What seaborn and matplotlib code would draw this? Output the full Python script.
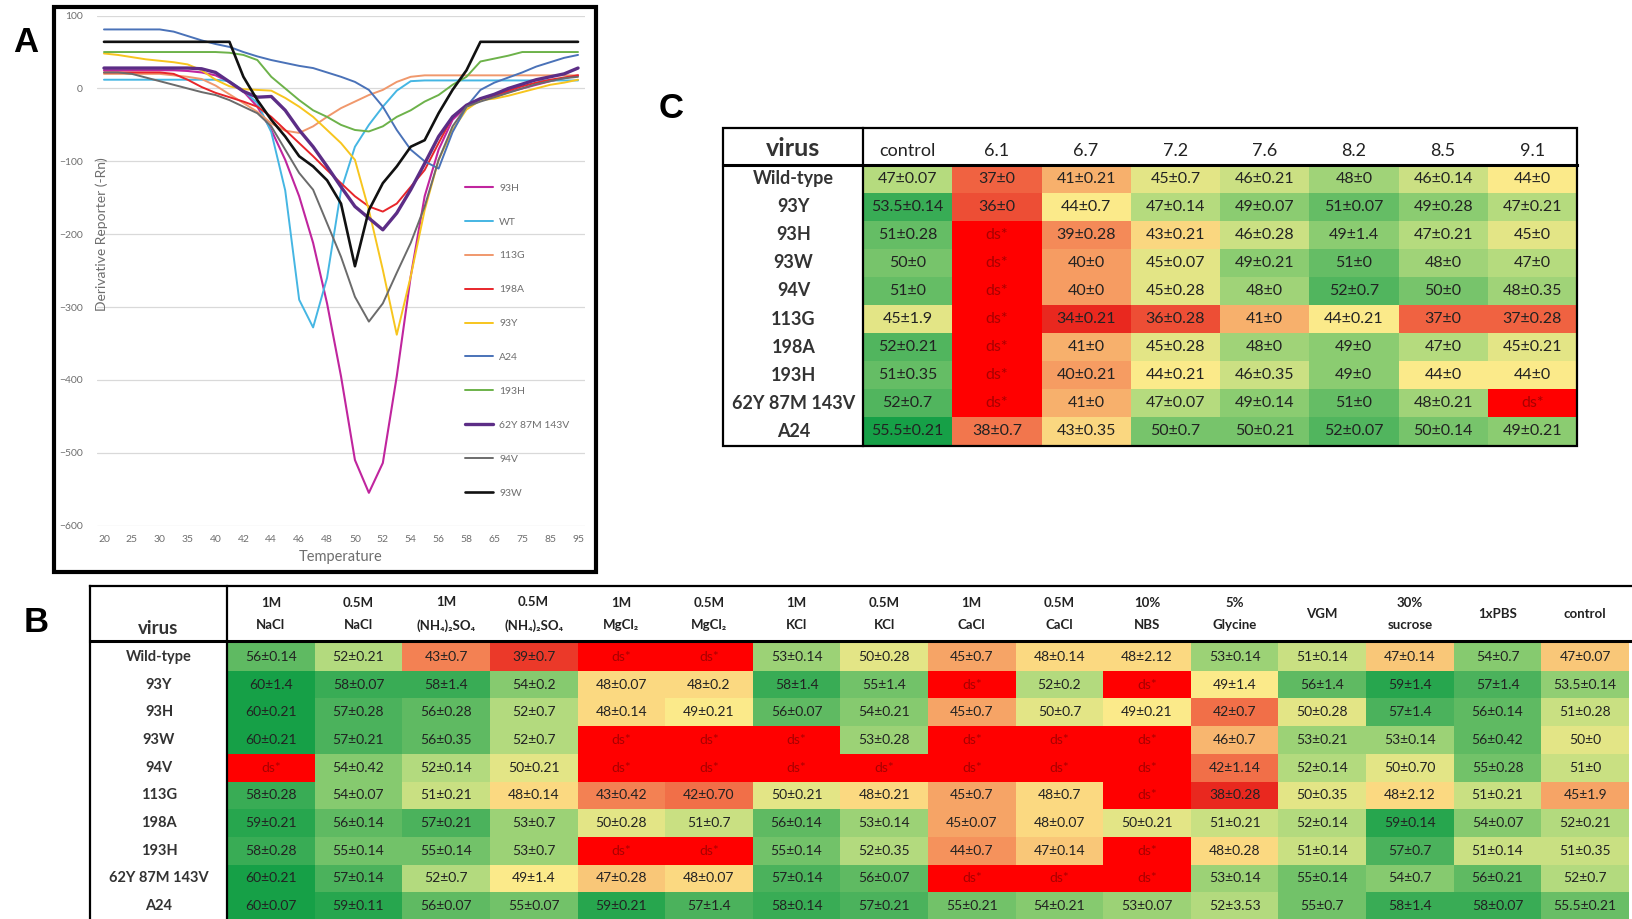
import numpy as np
import pandas as pd
import matplotlib
matplotlib.use("Agg")
import matplotlib.pyplot as plt
from matplotlib.colors import LinearSegmentedColormap, ListedColormap, TwoSlopeNorm
from matplotlib.lines import Line2D
from matplotlib.patches import Rectangle
import seaborn as sns

# ---------------------------------------------------------------- data ----
# Panel A: derivative melt curves (-Rn') against temperature
temperatures = [20, 22, 25, 27, 30, 32, 35, 37, 40, 41, 42, 43, 44, 45, 46, 47, 48,
                49, 50, 51, 52, 53, 54, 55, 56, 57, 58, 60, 65, 70, 75, 80, 85, 90, 95]
curve_names = ["93H", "WT", "113G", "198A", "93Y", "A24", "193H",
               "62Y 87M 143V", "94V", "93W"]
curve_93H = [25, 25, 25, 25, 25, 25, 24, 22, 18, 9, -4, -25, -57, -98, -148, -212, -295,
             -395, -510, -555, -514, -395, -258, -148, -84, -43, -25, -16, -12, -5, 0, 5,
             10, 14, 18]
curve_WT = [12, 12, 12, 12, 12, 12, 12, 12, 12, 10, -3, -20, -60, -140, -290, -328, -260,
            -140, -80, -50, -25, -3, 10, 11, 11, 11, 11, 11, 11, 11, 11, 11, 11, 11, 11]
curve_113G = [20, 20, 20, 20, 20, 18, 16, 13, 4, -8, -20, -32, -48, -58, -61, -52, -39,
              -27, -18, -9, -2, 9, 16, 18, 18, 18, 18, 18, 18, 18, 18, 18, 18, 18, 18]
curve_198A = [22, 22, 22, 22, 22, 20, 12, 2, -6, -12, -18, -25, -39, -57, -75, -93, -112,
              -130, -148, -162, -169, -158, -135, -112, -75, -39, -23, -14, -10, -3, 3, 8,
              12, 15, 18]
curve_93Y = [48, 46, 43, 40, 38, 36, 33, 25, 12, 3, -1, -2, -3, -13, -25, -39, -57, -75,
             -98, -167, -249, -338, -258, -167, -98, -57, -29, -16, -14, -10, -5, 0, 5, 8,
             12]
curve_A24 = [81, 81, 81, 81, 81, 78, 72, 66, 61, 57, 50, 44, 39, 35, 31, 28, 22, 16, 9,
             -2, -25, -57, -84, -100, -110, -60, -25, -2, 8, 15, 22, 30, 36, 42, 46]
curve_193H = [50, 50, 50, 50, 50, 50, 50, 50, 50, 49, 46, 39, 16, 0, -16, -30, -39, -50,
              -57, -59, -52, -39, -30, -18, -9, 5, 16, 37, 41, 45, 50, 50, 50, 50, 50]
curve_62Y87M143V = [28, 28, 28, 28, 28, 28, 28, 27, 22, 9, -4, -12, -11, -30, -57, -80,
                    -107, -135, -162, -178, -194, -171, -139, -103, -66, -39, -23, -14,
                    -8, 0, 6, 12, 16, 20, 28]
curve_94V = [22, 22, 20, 15, 10, 5, 0, -5, -9, -16, -25, -34, -52, -84, -116, -139, -185,
             -231, -286, -320, -295, -253, -212, -162, -98, -52, -25, -18, -12, -6, 0, 6,
             10, 14, 16]
curve_93W = [64, 64, 64, 64, 64, 64, 64, 64, 64, 64, 16, -16, -43, -66, -93, -107, -126,
             -158, -244, -167, -130, -107, -80, -71, -34, -2, 25, 64, 64, 64, 64, 64, 64,
             64, 64]
curves = [curve_93H, curve_WT, curve_113G, curve_198A, curve_93Y, curve_A24, curve_193H,
          curve_62Y87M143V, curve_94V, curve_93W]

# Panel B: Tm (mean±sd) of each virus in different buffers
buffer_columns = ["1M\nNaCl", "0.5M\nNaCl", "1M\n(NH₄)₂SO₄", "0.5M\n(NH₄)₂SO₄",
                  "1M\nMgCl₂", "0.5M\nMgCl₂", "1M\nKCl", "0.5M\nKCl", "1M\nCaCl",
                  "0.5M\nCaCl", "10%\nNBS", "5%\nGlycine", "VGM", "30%\nsucrose",
                  "1xPBS", "control"]
virus_rows = ["Wild-type", "93Y", "93H", "93W", "94V", "113G", "198A", "193H",
              "62Y 87M 143V", "A24"]
buffer_wild_type = ["56±0.14", "52±0.21", "43±0.7", "39±0.7", "ds*", "ds*", "53±0.14",
                    "50±0.28", "45±0.7", "48±0.14", "48±2.12", "53±0.14", "51±0.14",
                    "47±0.14", "54±0.7", "47±0.07"]
buffer_93Y = ["60±1.4", "58±0.07", "58±1.4", "54±0.2", "48±0.07", "48±0.2", "58±1.4",
              "55±1.4", "ds*", "52±0.2", "ds*", "49±1.4", "56±1.4", "59±1.4", "57±1.4",
              "53.5±0.14"]
buffer_93H = ["60±0.21", "57±0.28", "56±0.28", "52±0.7", "48±0.14", "49±0.21",
              "56±0.07", "54±0.21", "45±0.7", "50±0.7", "49±0.21", "42±0.7", "50±0.28",
              "57±1.4", "56±0.14", "51±0.28"]
buffer_93W = ["60±0.21", "57±0.21", "56±0.35", "52±0.7", "ds*", "ds*", "ds*", "53±0.28",
              "ds*", "ds*", "ds*", "46±0.7", "53±0.21", "53±0.14", "56±0.42", "50±0"]
buffer_94V = ["ds*", "54±0.42", "52±0.14", "50±0.21", "ds*", "ds*", "ds*", "ds*", "ds*",
              "ds*", "ds*", "42±1.14", "52±0.14", "50±0.70", "55±0.28", "51±0"]
buffer_113G = ["58±0.28", "54±0.07", "51±0.21", "48±0.14", "43±0.42", "42±0.70",
               "50±0.21", "48±0.21", "45±0.7", "48±0.7", "ds*", "38±0.28", "50±0.35",
               "48±2.12", "51±0.21", "45±1.9"]
buffer_198A = ["59±0.21", "56±0.14", "57±0.21", "53±0.7", "50±0.28", "51±0.7",
               "56±0.14", "53±0.14", "45±0.07", "48±0.07", "50±0.21", "51±0.21",
               "52±0.14", "59±0.14", "54±0.07", "52±0.21"]
buffer_193H = ["58±0.28", "55±0.14", "55±0.14", "53±0.7", "ds*", "ds*", "55±0.14",
               "52±0.35", "44±0.7", "47±0.14", "ds*", "48±0.28", "51±0.14", "57±0.7",
               "51±0.14", "51±0.35"]
buffer_62Y87M143V = ["60±0.21", "57±0.14", "52±0.7", "49±1.4", "47±0.28", "48±0.07",
                     "57±0.14", "56±0.07", "ds*", "ds*", "ds*", "53±0.14", "55±0.14",
                     "54±0.7", "56±0.21", "52±0.7"]
buffer_A24 = ["60±0.07", "59±0.11", "56±0.07", "55±0.07", "59±0.21", "57±1.4",
              "58±0.14", "57±0.21", "55±0.21", "54±0.21", "53±0.07", "52±3.53",
              "55±0.7", "58±1.4", "58±0.07", "55.5±0.21"]
buffer_cells = [buffer_wild_type, buffer_93Y, buffer_93H, buffer_93W, buffer_94V,
                buffer_113G, buffer_198A, buffer_193H, buffer_62Y87M143V, buffer_A24]

# Panel C: Tm (mean±sd) of each virus at different pH
ph_columns = ["control", "6.1", "6.7", "7.2", "7.6", "8.2", "8.5", "9.1"]
ph_wild_type = ["47±0.07", "37±0", "41±0.21", "45±0.7", "46±0.21", "48±0", "46±0.14", "44±0"]
ph_93Y = ["53.5±0.14", "36±0", "44±0.7", "47±0.14", "49±0.07", "51±0.07", "49±0.28", "47±0.21"]
ph_93H = ["51±0.28", "ds*", "39±0.28", "43±0.21", "46±0.28", "49±1.4", "47±0.21", "45±0"]
ph_93W = ["50±0", "ds*", "40±0", "45±0.07", "49±0.21", "51±0", "48±0", "47±0"]
ph_94V = ["51±0", "ds*", "40±0", "45±0.28", "48±0", "52±0.7", "50±0", "48±0.35"]
ph_113G = ["45±1.9", "ds*", "34±0.21", "36±0.28", "41±0", "44±0.21", "37±0", "37±0.28"]
ph_198A = ["52±0.21", "ds*", "41±0", "45±0.28", "48±0", "49±0", "47±0", "45±0.21"]
ph_193H = ["51±0.35", "ds*", "40±0.21", "44±0.21", "46±0.35", "49±0", "44±0", "44±0"]
ph_62Y87M143V = ["52±0.7", "ds*", "41±0", "47±0.07", "49±0.14", "51±0", "48±0.21", "ds*"]
ph_A24 = ["55.5±0.21", "38±0.7", "43±0.35", "50±0.7", "50±0.21", "52±0.07", "50±0.14", "49±0.21"]
ph_cells = [ph_wild_type, ph_93Y, ph_93H, ph_93W, ph_94V, ph_113G, ph_198A, ph_193H,
            ph_62Y87M143V, ph_A24]

# ---------------------------------------------------------------- style ---
sns.set_theme(style="white")
plt.rcParams["font.family"] = ["Lato", "DejaVu Sans"]

curve_colors = ["#C0259E", "#45B6E3", "#F0986C", "#E8262B", "#F7C51E", "#4A72B8",
                "#6DB24A", "#5C2D86", "#6B6B6B", "#111111"]
curve_widths = [1.5, 1.4, 1.4, 1.4, 1.4, 1.4, 1.4, 2.4, 1.4, 1.9]
AXIS_GREY = "#6E6E6E"
CELL_TEXT = "#222222"
DS_TEXT = "#A80000"
DS_FILL = "#FF0000"
tm_cmap = LinearSegmentedColormap.from_list(
    "tm", [(0.0, "#E9281F"), (0.25, "#F48A58"), (0.5, "#FCEA8A"), (0.62, "#BADD80"),
           (0.75, "#7CC66C"), (0.88, "#45B05A"), (1.0, "#16A047")])

W, H = 1632, 919
fig = plt.figure(figsize=(W / 100, H / 100), dpi=100)


def frac_rect(x0, y0, x1, y1):
    """Pixel box (origin top-left) -> figure-fraction [left, bottom, width, height]."""
    return [x0 / W, 1 - y1 / H, (x1 - x0) / W, (y1 - y0) / H]


def fig_line(xs, ys, lw):
    fig.add_artist(Line2D([x / W for x in xs], [1 - y / H for y in ys],
                          transform=fig.transFigure, color="black", lw=lw,
                          solid_capstyle="projecting"))


# ------------------------------------------------------------ panel A -----
fig.add_artist(Rectangle((54 / W, 1 - 572 / H), 542 / W, 565 / H, transform=fig.transFigure,
                         fill=False, edgecolor="black", lw=3.0))
axA = fig.add_axes(frac_rect(97, 15.6, 585, 525.6))
xpos = np.arange(len(temperatures))
for name, vals, col, lw in zip(curve_names, curves, curve_colors, curve_widths):
    sns.lineplot(x=xpos, y=vals, ax=axA, color=col, lw=lw, label=name, sort=False)
axA.set_xlim(-0.5, len(temperatures) - 0.5)
axA.set_ylim(-600, 100)
axA.set_yticks(np.arange(-600, 101, 100))
axA.set_xticks(xpos[::2])
axA.set_xticklabels([str(t) for t in temperatures[::2]])
axA.grid(axis="y", color="#D9D9D9", lw=0.9)
axA.set_axisbelow(True)
for s in axA.spines.values():
    s.set_visible(False)
axA.tick_params(axis="both", length=0, labelsize=7.5, labelcolor=AXIS_GREY)
axA.tick_params(axis="y", pad=10)
axA.tick_params(axis="x", pad=7)
axA.set_xlabel("Temperature", fontsize=10.5, color=AXIS_GREY)
axA.xaxis.set_label_coords(0.5, -0.047)
axA.set_ylabel("Derivative Reporter (-Rn)", fontsize=10, color=AXIS_GREY)
axA.yaxis.set_label_coords(0.022, 0.572)
leg = axA.legend(loc="upper left", bbox_to_anchor=(0.754, 0.671), frameon=False,
                 fontsize=7.5, handlelength=2.7, labelspacing=2.36, handletextpad=0.6,
                 borderaxespad=0, borderpad=0)
for t in leg.get_texts():
    t.set_color(AXIS_GREY)

# --------------------------------------------------------- heat tables ----
def tm_table(ax, cells, cols, rows, norm, value_size):
    labels = np.array(cells, dtype=object)
    is_ds = labels == "ds*"
    tm = np.array([[np.nan if c == "ds*" else float(c.split("±")[0]) for c in row]
                   for row in cells])
    sns.heatmap(pd.DataFrame(tm, index=rows, columns=cols), ax=ax, cmap=tm_cmap,
                norm=norm, mask=is_ds, annot=labels, fmt="", cbar=False,
                annot_kws=dict(size=value_size, color=CELL_TEXT),
                xticklabels=cols, yticklabels=rows)
    sns.heatmap(pd.DataFrame(is_ds.astype(float), index=rows, columns=cols), ax=ax,
                cmap=ListedColormap([DS_FILL]), mask=~is_ds, annot=labels, fmt="",
                cbar=False, annot_kws=dict(size=value_size, color=DS_TEXT),
                xticklabels=cols, yticklabels=rows)
    ax.xaxis.tick_top()
    ax.tick_params(axis="both", length=0)


# Panel B
axB = fig.add_axes(frac_rect(227, 643, 1629, 920))
tm_table(axB, buffer_cells, buffer_columns, virus_rows,
         TwoSlopeNorm(vmin=38, vcenter=49, vmax=60), 10)
axB.tick_params(axis="x", pad=21, labelsize=9.5)
axB.tick_params(axis="y", pad=49, labelsize=10.5)
for t in axB.get_xticklabels():
    t.set_rotation(0)
    t.set_va("center")
    t.set_linespacing(2.05)
    t.set_fontweight("bold")
    t.set_color("#222222")
for t in axB.get_yticklabels():
    t.set_rotation(0)
    t.set_ha("center")
    t.set_fontweight("bold")
    t.set_color("#333333")
fig.text(158.5 / W, 1 - 629 / H, "virus", ha="center", va="center", fontsize=13.5,
         fontweight="bold", color="#333333")
fig_line([90, W + 5], [586, 586], 1.6)
fig_line([90, 90], [586, H + 5], 1.6)
fig_line([90, W + 5], [641, 641], 2.2)
fig_line([227, 227], [586, H + 5], 1.6)

# Panel C
axC = fig.add_axes(frac_rect(863, 164.5, 1577, 445.5))
tm_table(axC, ph_cells, ph_columns, virus_rows,
         TwoSlopeNorm(vmin=34, vcenter=44, vmax=55.5), 11.5)
axC.tick_params(axis="x", pad=10, labelsize=13)
axC.tick_params(axis="y", pad=50, labelsize=13)
for t in axC.get_xticklabels():
    t.set_rotation(0)
    t.set_va("center")
    t.set_color("#222222")
for t in axC.get_yticklabels():
    t.set_rotation(0)
    t.set_ha("center")
    t.set_fontweight("bold")
    t.set_color("#333333")
fig.text(793 / W, 1 - 148 / H, "virus", ha="center", va="center", fontsize=18,
         fontweight="bold", color="#333333")
fig.add_artist(Rectangle((723 / W, 1 - 445.5 / H), 854 / W, 317.5 / H,
                         transform=fig.transFigure, fill=False, edgecolor="black", lw=1.6))
fig_line([723, 1577], [164.5, 164.5], 2.2)
fig_line([863, 863], [128, 445.5], 1.6)

# ------------------------------------------------------- panel letters ----
for letter, x, y in [("A", 26, 42), ("B", 36, 622), ("C", 671, 109)]:
    fig.text(x / W, 1 - y / H, letter, ha="center", va="center", fontsize=25,
             fontweight="bold", family="Liberation Sans", color="black")

fig.savefig("out.png", dpi=100)
